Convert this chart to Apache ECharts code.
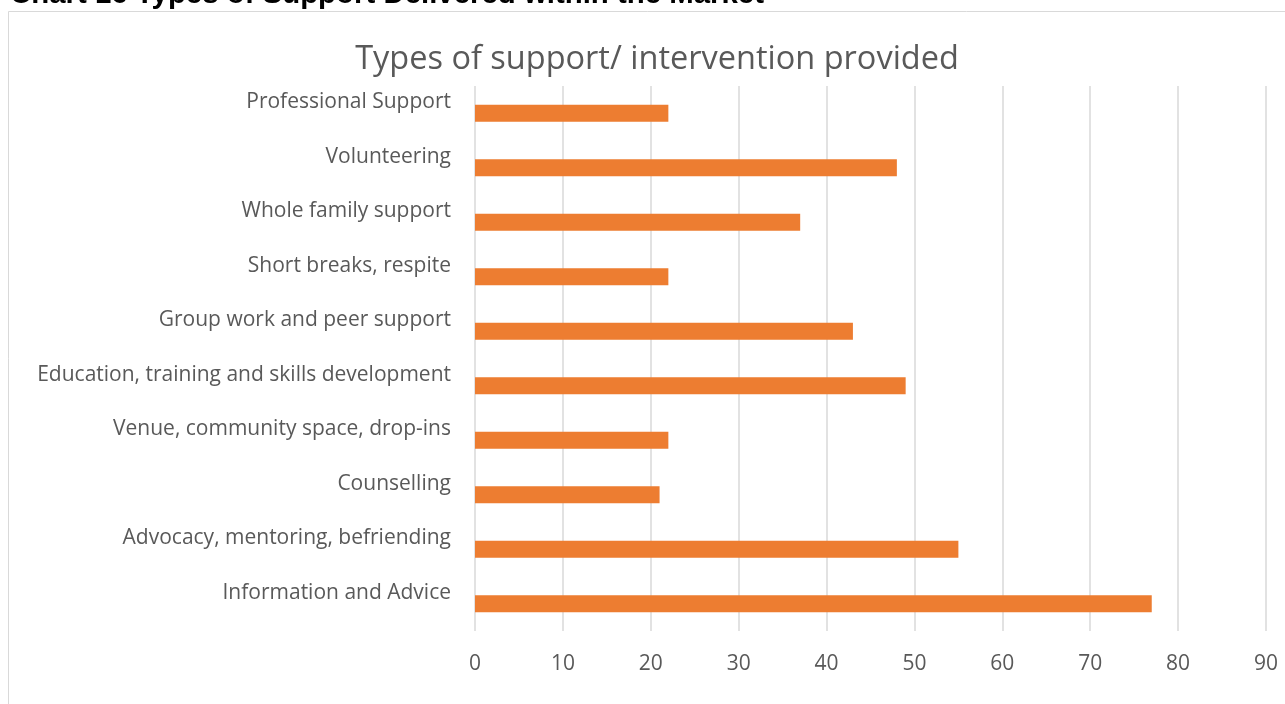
<!DOCTYPE html>
<html>
<head>
<meta charset="utf-8">
<script src="https://cdn.jsdelivr.net/npm/echarts@6/dist/echarts.min.js"></script>
<style>
  html, body { margin: 0; padding: 0; background: #ffffff; }
  #chart { width: 1285px; height: 704px; }
</style>
</head>
<body>
<div id="chart"></div>
<script>
const pageHeading = "Chart 16 Types of Support Delivered within the Market";
const chartTitle = "Types of support/ intervention provided";
const categories = [
  "Information and Advice",
  "Advocacy, mentoring, befriending",
  "Counselling",
  "Venue, community space, drop-ins",
  "Education, training and skills development",
  "Group work and peer support",
  "Short breaks, respite",
  "Whole family support",
  "Volunteering",
  "Professional Support"
];
const values = [77, 55, 21, 22, 49, 43, 22, 37, 48, 22];
const xTicks = [0, 10, 20, 30, 40, 50, 60, 70, 80, 90];

const chart = echarts.init(document.getElementById('chart'));
chart.setOption({
  animation: false,
  backgroundColor: '#ffffff',
  graphic: [
    {
      type: 'rect',
      shape: { x: 8.5, y: 11.5, width: 1300, height: 720 },
      style: { fill: 'none', stroke: '#d9d9d9', lineWidth: 1 },
      silent: true
    },
    {
      type: 'text',
      x: 10, y: -5,
      style: {
        text: pageHeading,
        font: 'bold 29.4px "Liberation Sans", Arial, sans-serif',
        fill: '#000000',
        verticalAlign: 'middle',
        align: 'left'
      }
    }
  ],
  title: {
    text: chartTitle,
    left: 652, top: 38,
    textAlign: 'center',
    textStyle: {
      fontFamily: '"Open Sans", sans-serif',
      fontSize: 32.5,
      fontWeight: 'normal',
      color: '#595959'
    }
  },
  grid: { left: 475, right: 19, top: 86, bottom: 73, containLabel: false },
  xAxis: {
    type: 'value',
    min: 0, max: 90, interval: 10,
    axisLine: { show: false },
    axisTick: { show: false },
    splitLine: { show: true, lineStyle: { color: '#d9d9d9', width: 1.5 } },
    axisLabel: {
      margin: 23,
      color: '#595959',
      fontFamily: '"Open Sans", sans-serif',
      fontSize: 21,
      formatter: function (v) { return xTicks.indexOf(v) >= 0 ? String(v) : ''; }
    }
  },
  yAxis: {
    type: 'category',
    data: categories,
    axisLine: { show: false },
    axisTick: { show: false },
    splitLine: { show: false },
    axisLabel: {
      margin: 24,
      color: '#595959',
      fontFamily: '"Open Sans", sans-serif',
      fontSize: 21,
      lineHeight: 22,
      verticalAlign: 'bottom'
    }
  },
  series: [{
    type: 'bar',
    data: values,
    barWidth: 17,
    itemStyle: { color: '#ED7D31' }
  }]
});
</script>
</body>
</html>
